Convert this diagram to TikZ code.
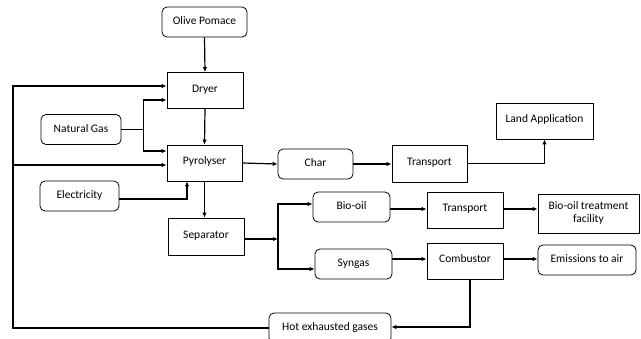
\documentclass[tikz,border=0pt]{standalone}
\usepackage{fontspec}
\setmainfont{Carlito}
\usetikzlibrary{arrows.meta, positioning, calc}

\tikzset{
  procbox/.style={draw, line width=0.8pt, minimum width=#1, minimum height=36pt, inner sep=1pt, text depth=4pt, font=\fontsize{11.5}{13}\selectfont},
  procbox/.default=76pt,
  flowbox/.style={procbox=#1, rounded corners=5pt, minimum height=30pt, text depth=2.5pt},
  flowbox/.default=78pt,
  flow/.style={line width=1.2pt, -{Latex[length=5pt,width=4.5pt]}}
}

\begin{document}
\begin{tikzpicture}[x=1pt, y=-1pt]
\clip (0,0) rectangle (641,338);
\fill[white] (0,0) rectangle (641,338);

% main line
\node[flowbox=85pt] (pomace) at (204.5,22) {Olive Pomace};
\node[procbox] (dryer) at (205,90.5) {Dryer};
\node[procbox=75pt] (pyro) at (204.5,163) {Pyrolyser};
\node[procbox, minimum height=37pt] (sep) at (206,236.5) {Separator};

% inputs
\node[flowbox=80pt] (natgas) at (81,129.5) {Natural Gas};
\node[flowbox=79pt] (elec) at (79.5,196) {Electricity};

% char
\node[flowbox=75pt] (char) at (315.5,164) {Char};
\node[procbox=75pt, minimum height=37pt] (trans1) at (429.5,163.5) {Transport};
\node[procbox=97pt] (land) at (544.5,121) {Land Application};

% bio-oil
\node[flowbox=77pt] (biooil) at (351.5,207) {Bio-oil};
\node[procbox] (trans2) at (465,210) {Transport};
\node[procbox=101pt, minimum height=39pt, text depth=2pt, align=center] (facility) at (588.5,213.5) {Bio-oil treatment\\facility};

% syngas
\node[flowbox=77pt] (syngas) at (353.5,264) {Syngas};
\node[procbox] (comb) at (465,261) {Combustor};
\node[flowbox=98pt] (emis) at (587,260) {Emissions to air};
\node[flowbox=122pt] (hot) at (330,328) {Hot exhausted gases};

\draw[flow] (pomace.south) -- (dryer.north);
\draw[flow] (dryer.south) -- (pyro.north);
\draw[flow] (pyro.south) -- (pyro.south |- sep.north);

\draw[line width=1.2pt] (natgas.east) -- ++(22,0) coordinate (ngsplit);
\draw[flow] (ngsplit) |- ([yshift=-9.5pt]dryer.west);
\draw[flow] (ngsplit) |- ([yshift=12pt]pyro.west);
\draw[flow] ([yshift=-3pt]elec.east) -| ([xshift=-17.5pt]pyro.south);

\draw[flow] (pyro.east) -- (char.west);
\draw[flow] (char.east) -- (char.east -| trans1.west);
\draw[flow] (trans1.east) -| (land.south);

\coordinate (split) at (278,239);
\draw[flow] ([yshift=-2.5pt]sep.east) -- (split);
\draw[flow] (split) |- ([yshift=3pt]biooil.west);
\draw[flow] (split) |- ([yshift=-5pt]syngas.west);

\draw[flow] ([yshift=-2pt]biooil.east) -- ([yshift=1pt]trans2.west);
\draw[flow] ([yshift=1pt]trans2.east) -- ([yshift=4.5pt]facility.west);
\draw[flow] ([yshift=5pt]syngas.east) -- ([yshift=2pt]comb.west);
\draw[flow] ([yshift=2pt]comb.east) -- ([yshift=1pt]emis.west);

% recycle loop
\draw[flow] ([xshift=5pt]comb.south) |- ([yshift=1pt]hot.east);
\coordinate (loop) at (13,328);
\draw[flow] (hot.west) -- (loop) |- ([yshift=4.5pt]dryer.west);
\draw[flow] ([yshift=-2pt]loop |- pyro.west) -- ([yshift=-2pt]pyro.west);
\end{tikzpicture}
\end{document}
